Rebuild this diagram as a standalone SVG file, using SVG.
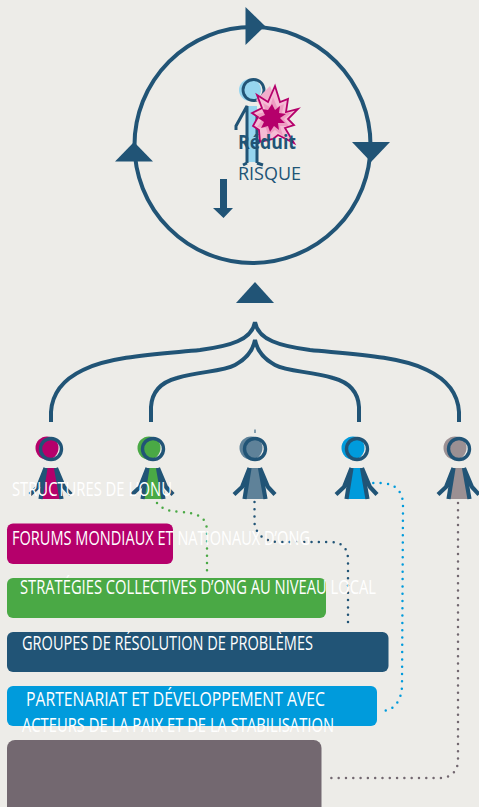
<svg xmlns="http://www.w3.org/2000/svg" xmlns:xlink="http://www.w3.org/1999/xlink" width="479" height="807" viewBox="0 0 479 807">
<style>
.nv{fill:#215476}
.ln{fill:none;stroke:#215476;stroke-width:4}
.bk{fill:none;stroke:#215476;stroke-width:4}
.dot{fill:none;stroke-width:2.500;stroke-linecap:round;stroke-dasharray:0 7.300}
.lb{font-family:"Open Sans","Noto Sans",sans-serif;font-size:20px;fill:#fff}
.st{stroke:#215476;stroke-width:4.200;fill:none;stroke-linejoin:round;stroke-linecap:butt}
</style>
<defs>
<g id="figure">
<circle cx="0" cy="0" r="10.5" fill="none" stroke="#215476" stroke-width="3.400"/>
<path class="st" d="M-5.500 19L-13 38L-21 45.500M5 19L13 38L20 45.500M-5.500 19L-10.500 50M5 19L10.500 50"/>
</g>
</defs>
<rect width="479" height="807" fill="#edece8"/>
<g id="connectors">
<circle cx="252.500" cy="145" r="118" class="ln"/>
<path class="bk" d="M51 422V412C52 395 62 380 83 370C110 356 160 354 200 350C230 346 252 340 255 322C258 340 280 346 310 350C350 354 400 356 427 370C448 380 458 395 459 412V422"/>
<path class="bk" d="M151 422V407C152 390 162 382 177 378C200 371 222 372 235 365C248 358 253 350 255 340C257 350 262 358 275 365C288 372 310 371 333 378C348 382 358 390 359 407V422"/>
<path d="M255 429.500V433" stroke="#215476" stroke-width="1" fill="none"/>
<path class="dot" stroke="#4aa945" d="M157 503C163 510 170 511 180 512C195 513 206 515 207 530V577"/>
<path class="dot" stroke="#215476" d="M254.500 502V523C256 535 265 542 280 542H330C342 542 348 548 348 560V627"/>
<path class="dot" stroke="#009bdc" d="M366 483H382C396 484 403 492 403 505L402 685C402 700 394 711 382 711"/>
<path class="dot" stroke="#736870" d="M458 503V760C458 772 450 778 440 778H327"/>
</g>
<g id="arrow-top"><path class="nv" d="M245.500 7L265 26L245.500 45Z"/></g>
<g id="arrow-right"><path class="nv" d="M352 142H390L371 162Z"/></g>
<g id="arrow-left"><path class="nv" d="M115 161.500L134 142L153 161.500Z"/></g>
<g id="arrow-up"><path class="nv" d="M236 303L255 282L274 303Z"/></g>
<g id="arrow-down"><path class="nv" d="M220 179H227V208H233L223.500 218L213 208H220Z"/></g>
<g id="risk-person">
<circle cx="250" cy="90" r="11" fill="#96d5ef"/>
<rect x="247" y="106" width="10" height="56" fill="#96d5ef"/>
<circle cx="253.500" cy="90" r="10.500" fill="none" stroke="#215476" stroke-width="2.800"/>
<path d="M236 130V126L247 106V163M257 112V163M247 163L243 165M257 163L263 165" fill="none" stroke="#215476" stroke-width="3"/>
</g>
<g id="risk-burst">
<path fill="#f2aecb" d="M270 86L276 100L262 108L256 100Z"/>
<path fill="#f5bcd5" stroke="#b5006b" stroke-width="1.800" d="M275 86L280 102L288 99L286 112L298 109L288 119L294 125L285 128L294 143L278 135L273 139L260 142L259 130L253 126L258 117L252 113L262 108L257 95L268 102Z"/>
<path fill="#ee9dc2" d="M273 97L277 107L284 104L282 113L291 113L284 119L289 126L280 126L283 136L275 130L268 136L266 128L257 127L262 120L257 114L266 112L263 103L270 107Z"/>
<path fill="#b5006b" d="M272 104L275 110L280 106L279 113L286 114L280 118L285 123L278 123L279 130L274 126L270 132L268 126L261 128L264 122L258 118L265 115L262 109L268 110Z"/>
</g>
<g id="risk-label">
<text x="238" y="149" font-family="'Open Sans','Noto Sans',sans-serif" font-size="19" font-weight="700" fill="#215476" textLength="58" lengthAdjust="spacingAndGlyphs">Réduit</text>
<text x="238" y="180" font-family="'Open Sans','Noto Sans',sans-serif" font-size="19" fill="#215476" textLength="63" lengthAdjust="spacingAndGlyphs">RISQUE</text>
</g>
<g id="person-1">
<circle cx="47" cy="448" r="11.500" fill="#b5006b"/>
<path d="M45 468H56L62 499H40Z" fill="#b5006b"/>
<use xlink:href="#figure" href="#figure" x="51" y="449"/>
</g>
<g id="person-2">
<circle cx="149" cy="448" r="11.500" fill="#4aa945"/>
<path d="M147 468H158L164 499H142Z" fill="#4aa945"/>
<use xlink:href="#figure" href="#figure" x="153" y="449"/>
</g>
<g id="person-3">
<circle cx="251" cy="448" r="11.500" fill="#5f8299"/>
<path d="M249 468H260L266 499H244Z" fill="#5f8299"/>
<use xlink:href="#figure" href="#figure" x="255" y="449"/>
</g>
<g id="person-4">
<circle cx="353" cy="448" r="11.500" fill="#009bdc"/>
<path d="M351 468H362L368 499H346Z" fill="#009bdc"/>
<use xlink:href="#figure" href="#figure" x="357" y="449"/>
</g>
<g id="person-5">
<circle cx="455" cy="448" r="11.500" fill="#9b9093"/>
<path d="M453 468H464L470 499H448Z" fill="#9b9093"/>
<use xlink:href="#figure" href="#figure" x="459" y="449"/>
</g>
<g id="label-onu">
<text class="lb" x="12" y="496" textLength="160" lengthAdjust="spacingAndGlyphs">STRUCTURES DE L’ONU</text>
</g>
<g id="box-forums">
<rect x="7" y="523.500" width="166" height="40.500" rx="6" fill="#b5006b"/>
<text class="lb" x="12" y="545" textLength="298" lengthAdjust="spacingAndGlyphs">FORUMS MONDIAUX ET NATIONAUX D’ONG</text>
</g>
<g id="box-strategies">
<rect x="7" y="578" width="319" height="40" rx="6" fill="#4aa945"/>
<text class="lb" x="20" y="594" textLength="356" lengthAdjust="spacingAndGlyphs">STRATÉGIES COLLECTIVES D’ONG AU NIVEAU LOCAL</text>
</g>
<g id="box-groupes">
<rect x="7" y="632" width="381.500" height="40" rx="6" fill="#215476"/>
<text class="lb" x="22" y="650" textLength="291" lengthAdjust="spacingAndGlyphs">GROUPES DE RÉSOLUTION DE PROBLÈMES</text>
</g>
<g id="box-partenariat">
<rect x="7" y="686" width="370" height="40" rx="6" fill="#009bdc"/>
<text class="lb" x="26" y="706" textLength="299" lengthAdjust="spacingAndGlyphs">PARTENARIAT ET DÉVELOPPEMENT AVEC</text>
<text class="lb" x="22" y="732" textLength="312" lengthAdjust="spacingAndGlyphs">ACTEURS DE LA PAIX ET DE LA STABILISATION</text>
</g>
<g id="box-gray">
<rect x="7" y="740" width="314.500" height="80" rx="8" fill="#736870"/>
</g>
</svg>
